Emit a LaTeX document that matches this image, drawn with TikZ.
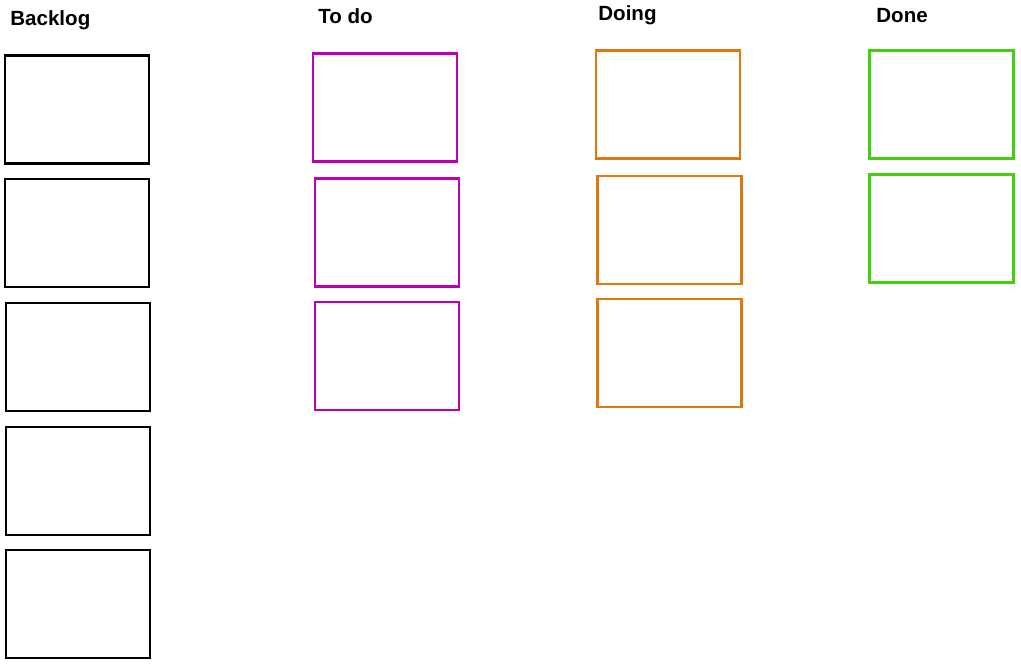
\documentclass[tikz,border=0pt]{standalone}
\usepackage{fontspec}
\setmainfont{Liberation Sans}
\definecolor{todocol}{RGB}{192,0,176}
\definecolor{doingcol}{RGB}{224,120,16}
\definecolor{donecol}{RGB}{68,208,16}
\begin{document}
\begin{tikzpicture}[x=0.02cm,y=-0.02cm,
    card/.style={draw, line width=1.4pt, minimum width=2.88cm, minimum height=2.16cm, inner sep=0pt},
    title/.style={anchor=base west, inner sep=0pt, font=\bfseries\fontsize{11.7}{14}\selectfont}]
        \useasboundingbox (0,0) rectangle (1021,666);

        % column titles
        \node[title] (backlog) at (10,25.5) {Backlog};
        \node[title] (todo) at (318,23.5) {To do};
        \node[title] (doing) at (598,20.5) {Doing};
        \node[title] (done) at (876,22) {Done};

        % backlog
        \node[card] (b1) at (77,109.5) {};
        \node[card] (b2) at (77,233) {};
        \node[card] (b3) at (78,357) {};
        \node[card] (b4) at (78,481) {};
        \node[card] (b5) at (78,604) {};

        % to do
        \node[card, draw=todocol] (t1) at (385,107.5) {};
        \node[card, draw=todocol] (t2) at (387,232.5) {};
        \node[card, draw=todocol] (t3) at (387,356) {};

        % doing
        \node[card, draw=doingcol] (d1) at (668,104.5) {};
        \node[card, draw=doingcol] (d2) at (669.5,230) {};
        \node[card, draw=doingcol] (d3) at (669.5,353) {};

        % done
        \node[card, draw=donecol] (f1) at (941.5,104.5) {};
        \node[card, draw=donecol] (f2) at (941.5,228.5) {};
    \end{tikzpicture}
\end{document}
